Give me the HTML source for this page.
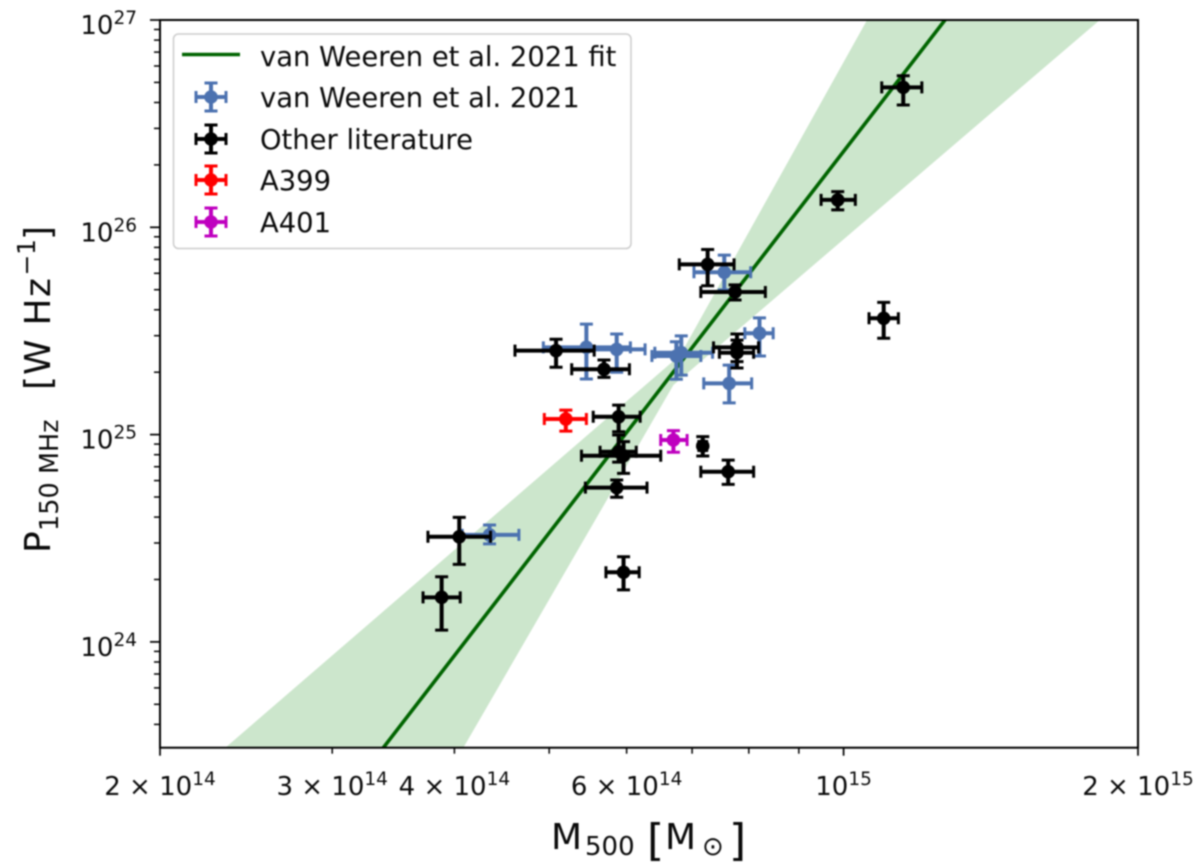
<!DOCTYPE html>
<html lang="en">
<head>
<meta charset="utf-8">
<title>P150MHz vs M500</title>
<style>
html,body{margin:0;padding:0;background:#fff;}
svg{display:block;filter:blur(0.7px);}
text{font-family:"DejaVu Sans","Liberation Sans",sans-serif;fill:#0a0a0a;}
</style>
</head>
<body>
<svg id="chart" xmlns="http://www.w3.org/2000/svg" width="1200" height="865" viewBox="0 0 1200 865">
  <defs>
    <clipPath id="plot-clip"><rect x="160" y="20" width="978" height="727.7"></rect></clipPath>
  </defs>
  <rect x="160" y="20" width="978" height="727.7" fill="#fff"></rect>
  <g id="plot-layer" clip-path="url(#plot-clip)"></g>
  <g id="tick-layer"></g>
  <rect x="160" y="20" width="978" height="727.7" fill="none" stroke="#000" stroke-width="2"></rect>

  <text y="849" font-size="36"><tspan x="551">M</tspan><tspan x="585" y="855" font-size="26">500</tspan><tspan x="647" y="855" font-size="44">[</tspan><tspan x="665" y="849">M</tspan><tspan x="702" y="855" font-size="26">⊙</tspan><tspan x="729" y="855" font-size="44">]</tspan></text>
  <text transform="translate(50,553) rotate(-90)" font-size="36"><tspan x="0" y="0">P</tspan><tspan x="22" y="8" font-size="25.5">150</tspan><tspan x="79" y="8" font-size="25.5">MHz</tspan><tspan x="163" y="0">[</tspan><tspan x="178" y="0">W</tspan><tspan x="227.5" y="0">H</tspan><tspan x="256" y="0">z</tspan><tspan x="277.5" y="-15" font-size="25">−</tspan><tspan x="298" y="-15" font-size="25">1</tspan><tspan x="313" y="0">]</tspan></text>

  <g id="legend">
    <rect x="173.5" y="34" width="457.5" height="214.5" rx="5" fill="#fff" fill-opacity="0.9" stroke="#ccc" stroke-width="1.5"></rect>
    <line x1="182" y1="54.5" x2="240" y2="54.5" stroke="#006400" stroke-width="3.5"></line>
    <text x="260" y="66" font-size="27.4">van Weeren et al. 2021 fit</text>
    <text x="260" y="107" font-size="27.4">van Weeren et al. 2021</text>
    <text x="260" y="149" font-size="27.4">Other literature</text>
    <text x="260" y="190" font-size="27.4">A399</text>
    <text x="260" y="232" font-size="27.4">A401</text>
  </g>
</svg>
<script>
// All masses and powers are log10 values; errors are in dex.
const fitLogMass = [14.5, 15.15];
const fitLogPower = [23.31, 27.283];
const bandUpperLogMass = [14.3675, 14.833, 15.024];
const bandUpperLogPower = [23.488, 25.384, 27];
const bandLowerLogMass = [14.611, 14.826, 15.262];
const bandLowerLogPower = [23.488, 25.239, 27];

const blueLogMass = [14.878, 14.914, 14.737, 14.768, 14.829, 14.834, 14.883, 14.638];
const blueMassErrLow = [0.031, 0.015, 0.044, 0.031, 0.025, 0.027, 0.026, 0.028];
const blueMassErrHigh = [0.027, 0.014, 0.045, 0.029, 0.025, 0.032, 0.023, 0.030];
const blueLogPower = [25.783, 25.489, 25.421, 25.411, 25.379, 25.395, 25.247, 24.516];
const bluePowerErrHigh = [0.083, 0.074, 0.112, 0.074, 0.069, 0.081, 0.088, 0.048];
const bluePowerErrLow = [0.085, 0.110, 0.153, 0.110, 0.112, 0.108, 0.094, 0.043];

const blackLogMass = [14.861, 14.889, 14.706, 14.755, 14.891, 14.891, 14.770, 14.770, 14.775, 14.768, 14.882, 14.856, 14.607, 14.589, 14.775, 15.061, 14.994, 15.041];
const blackMassErrLow = [0.029, 0.035, 0.042, 0.033, 0.024, 0.018, 0.026, 0.019, 0.043, 0.032, 0.028, 0.004, 0.032, 0.019, 0.018, 0.022, 0.017, 0.015];
const blackMassErrHigh = [0.027, 0.031, 0.039, 0.026, 0.022, 0.017, 0.022, 0.018, 0.038, 0.031, 0.026, 0.004, 0.032, 0.019, 0.016, 0.019, 0.018, 0.015];
const blackLogPower = [25.821, 25.688, 25.405, 25.315, 25.421, 25.395, 25.086, 24.917, 24.898, 24.744, 24.821, 24.945, 24.507, 24.215, 24.336, 26.675, 26.132, 25.561];
const blackPowerErrHigh = [0.072, 0.034, 0.055, 0.045, 0.064, 0.061, 0.056, 0.081, 0.068, 0.037, 0.056, 0.045, 0.094, 0.099, 0.075, 0.056, 0.040, 0.077];
const blackPowerErrLow = [0.103, 0.039, 0.080, 0.039, 0.069, 0.074, 0.072, 0.050, 0.085, 0.046, 0.061, 0.048, 0.133, 0.158, 0.085, 0.085, 0.048, 0.096];

const redLogMass = [14.716];
const redMassErrLow = [0.022];
const redMassErrHigh = [0.021];
const redLogPower = [25.075];
const redPowerErrHigh = [0.043];
const redPowerErrLow = [0.058];

const magentaLogMass = [14.826];
const magentaMassErrLow = [0.013];
const magentaMassErrHigh = [0.014];
const magentaLogPower = [24.974];
const magentaPowerErrHigh = [0.045];
const magentaPowerErrLow = [0.059];

const xMajorTicks = [2e14, 1e15, 2e15];
const xMinorTicks = [3e14, 4e14, 5e14, 6e14, 7e14, 8e14, 9e14];
const xTickValues = [2e14, 3e14, 4e14, 6e14, 1e15, 2e15];
const xTickMantissas = ['2 × 10', '3 × 10', '4 × 10', '6 × 10', '10', '2 × 10'];
const xTickExponents = ['14', '14', '14', '14', '15', '15'];
const yDecades = [24, 25, 26, 27];
const yMinorFactors = [2, 3, 4, 5, 6, 7, 8, 9];
const yMinorDecades = [23, 24, 25, 26];

const NS = 'http://www.w3.org/2000/svg';
const xLogMin = Math.log10(2e14), xPerDex = 978, xLeft = 160;
const yLogMax = 27, yPerDex = 207.3, yTop = 20, yBottom = 747.7;
function xScale(logM) { return xLeft + (logM - xLogMin) * xPerDex; }
function yScale(logP) { return yTop + (yLogMax - logP) * yPerDex; }

const plot = document.getElementById('plot-layer');
const ticks = document.getElementById('tick-layer');
const legend = document.getElementById('legend');

function mk(tag, attrs, parent) {
  const el = document.createElementNS(NS, tag);
  for (const k in attrs) el.setAttribute(k, attrs[k]);
  parent.appendChild(el);
  return el;
}

// Confidence band
const bandPts = [];
bandUpperLogMass.forEach((m, i) => bandPts.push(xScale(m) + ',' + yScale(bandUpperLogPower[i])));
for (let i = bandLowerLogMass.length - 1; i >= 0; i--) bandPts.push(xScale(bandLowerLogMass[i]) + ',' + yScale(bandLowerLogPower[i]));
const band = mk('polygon', { points: bandPts.join(' '), fill: '#008000', 'fill-opacity': 0.2 }, plot);



// Fit line
const fit = mk('line', { x1: xScale(fitLogMass[0]), y1: yScale(fitLogPower[0]), x2: xScale(fitLogMass[1]), y2: yScale(fitLogPower[1]), stroke: '#006400', 'stroke-width': 3.6 }, plot);



function errorPoint(parent, cx, x0, x1, cy, y0, y1, color, r) {
  mk('line', { x1: x0, y1: cy, x2: x1, y2: cy, stroke: color, 'stroke-width': 4 }, parent);
  mk('line', { x1: cx, y1: y0, x2: cx, y2: y1, stroke: color, 'stroke-width': 4 }, parent);
  mk('line', { x1: x0, y1: cy - 6, x2: x0, y2: cy + 6, stroke: color, 'stroke-width': 3 }, parent);
  mk('line', { x1: x1, y1: cy - 6, x2: x1, y2: cy + 6, stroke: color, 'stroke-width': 3 }, parent);
  mk('line', { x1: cx - 6.5, y1: y0, x2: cx + 6.5, y2: y0, stroke: color, 'stroke-width': 3 }, parent);
  mk('line', { x1: cx - 6.5, y1: y1, x2: cx + 6.5, y2: y1, stroke: color, 'stroke-width': 3 }, parent);
  mk('circle', { cx: cx, cy: cy, r: r, fill: color }, parent);
}

function drawSeries(name, color, logM, mLow, mHigh, logP, pHigh, pLow) {
  const group = mk('g', {}, plot);
  
  
  logM.forEach((m, i) => {
    const pt = mk('g', {}, group);
    
    
    errorPoint(pt, xScale(m), xScale(m - mLow[i]), xScale(m + mHigh[i]),
      yScale(logP[i]), yScale(logP[i] + pHigh[i]), yScale(logP[i] - pLow[i]), color, 6.8);
  });
}
drawSeries('van-weeren', '#4c72b0', blueLogMass, blueMassErrLow, blueMassErrHigh, blueLogPower, bluePowerErrHigh, bluePowerErrLow);
drawSeries('other-literature', '#000000', blackLogMass, blackMassErrLow, blackMassErrHigh, blackLogPower, blackPowerErrHigh, blackPowerErrLow);
drawSeries('a399', '#ff0000', redLogMass, redMassErrLow, redMassErrHigh, redLogPower, redPowerErrHigh, redPowerErrLow);
drawSeries('a401', '#bf00bf', magentaLogMass, magentaMassErrLow, magentaMassErrHigh, magentaLogPower, magentaPowerErrHigh, magentaPowerErrLow);

// Legend handles
const legendColors = ['#4c72b0', '#000000', '#ff0000', '#bf00bf'];
const legendNames = ['van-weeren', 'other-literature', 'a399', 'a401'];
const legendRows = [97, 139, 180, 222];
legendColors.forEach((c, i) => {
  const h = mk('g', {}, legend);
  
  
  errorPoint(h, 211, 196, 226, legendRows[i], legendRows[i] - 14, legendRows[i] + 14, c, 6.8);
});

// X ticks
xMajorTicks.forEach(v => {
  const t = mk('line', { x1: xScale(Math.log10(v)), y1: yBottom, x2: xScale(Math.log10(v)), y2: yBottom + 8, stroke: '#000', 'stroke-width': 1.7 }, ticks);
  
  
});
xMinorTicks.forEach(v => {
  const t = mk('line', { x1: xScale(Math.log10(v)), y1: yBottom, x2: xScale(Math.log10(v)), y2: yBottom + 6, stroke: '#000', 'stroke-width': 1.5 }, ticks);
  
  
});
xTickValues.forEach((v, i) => {
  const t = mk('text', { x: xScale(Math.log10(v)), y: 795, 'text-anchor': 'middle', 'font-size': 26 }, ticks);
  
  
  t.appendChild(document.createTextNode(xTickMantissas[i]));
  const s = mk('tspan', { 'font-size': 18.5, dy: -10 }, t);
  s.textContent = xTickExponents[i];
});

// Y ticks
yDecades.forEach(d => {
  const y = yScale(d);
  const t = mk('line', { x1: 150, y1: y, x2: 160, y2: y, stroke: '#000', 'stroke-width': 1.7 }, ticks);
  
  
  const l = mk('text', { x: 137, y: y + 14, 'text-anchor': 'end', 'font-size': 26 }, ticks);
  
  
  l.appendChild(document.createTextNode('10'));
  const s = mk('tspan', { 'font-size': 18.5, dy: -10 }, l);
  s.textContent = String(d);
});
yMinorDecades.forEach(d => {
  yMinorFactors.forEach(f => {
    const y = yScale(d + Math.log10(f));
    if (y > yBottom) return;
    const t = mk('line', { x1: 154, y1: y, x2: 160, y2: y, stroke: '#000', 'stroke-width': 1.5 }, ticks);
    
    
  });
});
</script>
</body>
</html>
